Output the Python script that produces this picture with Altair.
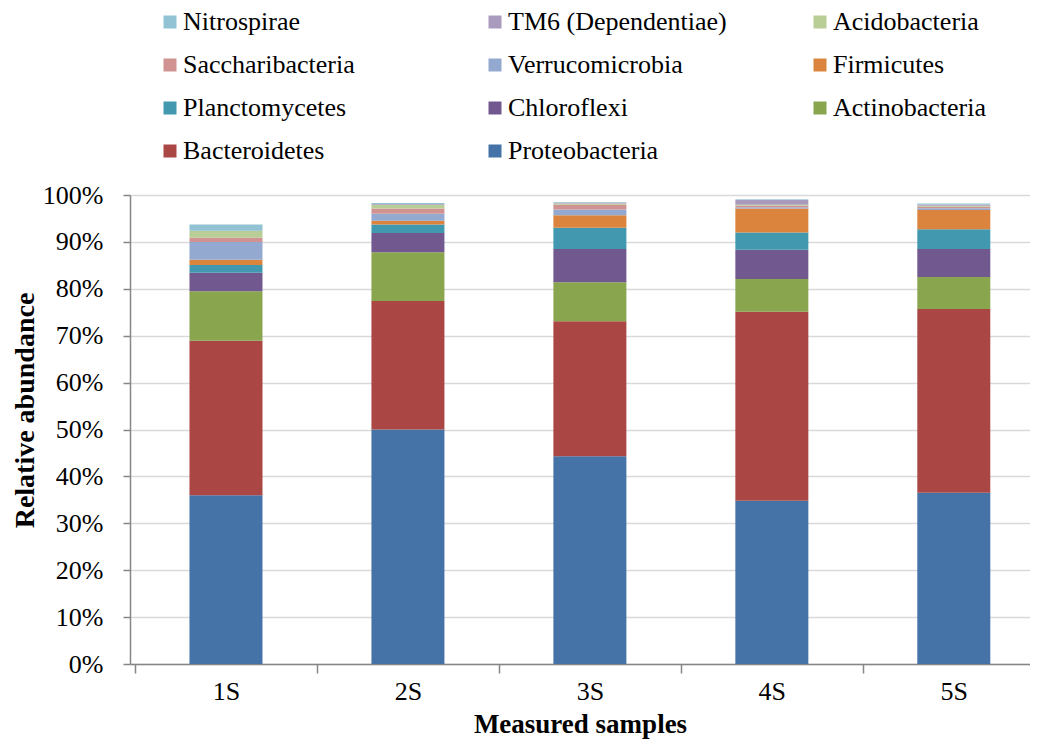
import altair as alt
import pandas as pd

samples = ["1S", "2S", "3S", "4S", "5S"]
# bottom-to-top stacking order
phyla = ["Proteobacteria", "Bacteroidetes", "Actinobacteria", "Chloroflexi",
         "Planctomycetes", "Firmicutes", "Verrucomicrobia", "Saccharibacteria",
         "Acidobacteria", "TM6 (Dependentiae)", "Nitrospirae"]
colors = ["#4572A7", "#AA4643", "#89A54E", "#71588F", "#4198AF", "#DB843D",
          "#93A9CF", "#D19392", "#B9CD96", "#A99BBD", "#92C3D4"]
# percent values, one list per phylum, in sample order
Proteobacteria = [36.0, 50.0, 44.3, 34.8, 36.5]
Bacteroidetes = [32.9, 27.4, 28.8, 40.3, 39.2]
Actinobacteria = [10.6, 10.4, 8.3, 7.0, 6.8]
Chloroflexi = [3.9, 4.1, 7.1, 6.2, 6.0]
Planctomycetes = [1.7, 1.8, 4.5, 3.7, 4.2]
Firmicutes = [1.1, 0.8, 2.7, 5.1, 4.1]
Verrucomicrobia = [3.8, 1.5, 1.2, 0.3, 0.4]
Saccharibacteria = [0.9, 1.1, 1.0, 0.3, 0.3]
Acidobacteria = [1.4, 0.8, 0.3, 0.2, 0.2]
TM6 = [0.1, 0.2, 0.2, 1.1, 0.3]
Nitrospirae = [1.3, 0.2, 0.1, 0.1, 0.2]
series = [Proteobacteria, Bacteroidetes, Actinobacteria, Chloroflexi,
          Planctomycetes, Firmicutes, Verrucomicrobia, Saccharibacteria,
          Acidobacteria, TM6, Nitrospirae]
y_ticks = [0, 0.1, 0.2, 0.3, 0.4, 0.5, 0.6, 0.7, 0.8, 0.9, 1.0]

rows = []
for k, (name, vals) in enumerate(zip(phyla, series)):
    for i, s in enumerate(samples):
        rows.append({"sample": s, "pos": i + 1, "phylum": name,
                     "order": k, "value": vals[i] / 100.0})
df = pd.DataFrame(rows)

FONT = "Liberation Serif"
legend_domain = phyla[::-1]
legend_range = colors[::-1]

label_js = "[" + ",".join("'" + s + "'" for s in samples) + "]"
x_vals = []
for i in range(len(samples)):
    x_vals += [i + 0.5, i + 1]

step = 184.0
W = 900
dom_hi = 0.5 + W / step

chart = alt.Chart(df).mark_bar(size=73).encode(
    x=alt.X("pos:Q",
            scale=alt.Scale(domain=[0.5, dom_hi], nice=False, zero=False),
            axis=alt.Axis(
                values=x_vals,
                labelExpr="datum.value % 1 === 0 ? " + label_js + "[datum.value - 1] : ''",
                tickOpacity={"condition": {"test": "datum.value % 1 === 0", "value": 0}, "value": 1},
                labelOverlap=False, labelFlush=False,
                grid=False, domainColor="#868686", tickColor="#868686",
                tickSize=9, tickWidth=1.5, domainWidth=1.5,
                labelFont=FONT, labelFontSize=26, labelColor="#000000", labelPadding=5,
                title="Measured samples", titleFont=FONT, titleFontSize=27,
                titleFontWeight="bold", titleColor="#000000", titlePadding=7)),
    y=alt.Y("value:Q", stack="zero",
            scale=alt.Scale(domain=[0, 1], nice=False),
            axis=alt.Axis(
                values=y_ticks, format=".0%",
                gridColor="#d9d9d9", gridWidth=1.5,
                domainColor="#868686", tickColor="#868686",
                tickSize=7, tickWidth=1.5, domainWidth=1.5,
                labelFont=FONT, labelFontSize=26, labelColor="#000000", labelPadding=20,
                title="Relative abundance", titleFont=FONT, titleFontSize=28,
                titleFontWeight="bold", titleColor="#000000",
                titleX=-97, titleY=215, titleBaseline="alphabetic", titleAlign="center")),
    color=alt.Color("phylum:N",
                    scale=alt.Scale(domain=legend_domain, range=legend_range),
                    legend=alt.Legend(
                        orient="none", legendX=27, legendY=-186, direction="horizontal",
                        columns=3, gridAlign="all", columnPadding=80,
                        rowPadding=17, symbolType="square", symbolSize=169,
                        symbolStrokeWidth=0, labelOffset=0, padding=0,
                        labelFont=FONT, labelFontSize=26, labelColor="#000000",
                        labelLimit=400, title=None)),
    order=alt.Order("order:Q", sort="ascending"),
).properties(
    width=W, height=469,
    autosize=alt.AutoSizeParams(type="none"),
    padding={"left": 122, "top": 187, "right": 0, "bottom": 76},
).configure_view(stroke=None)

chart.save("out.html", embed_options={"renderer": "svg", "actions": False})
